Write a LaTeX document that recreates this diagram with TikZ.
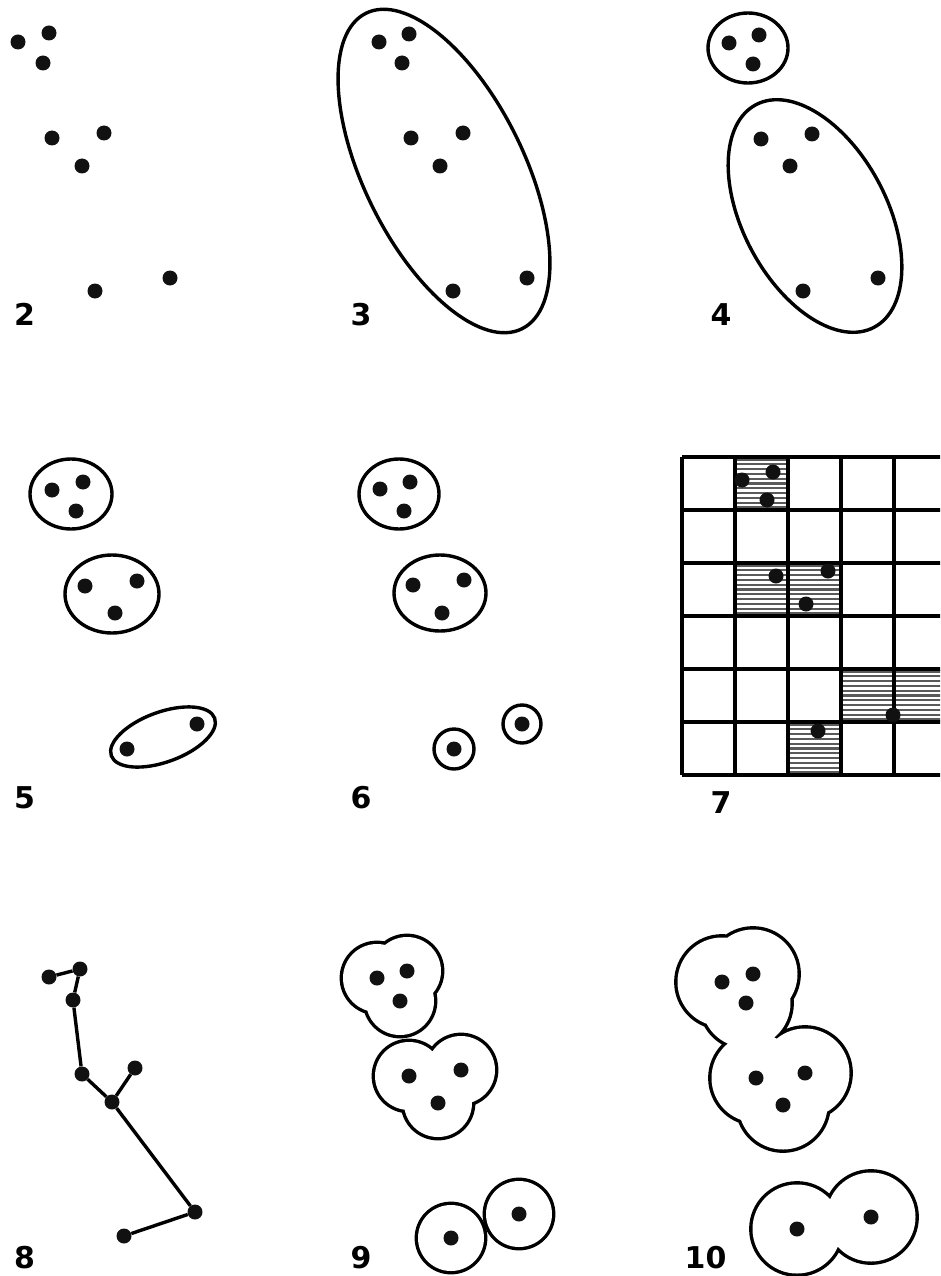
\documentclass[tikz,border=0pt]{standalone}
\usepackage{fontspec}
\usepackage{tikz}
\setsansfont{DejaVu Sans}
\definecolor{punkt}{HTML}{111111}
\definecolor{raster}{HTML}{5a5a5a}

\newcommand{\hatchcell}[3]{%
  \foreach \hh in {2.5,7.3,...,52} \draw[hatch] (#1,{#2+\hh}) -- ({#1+#3},{#2+\hh});}

\begin{document}
\begin{tikzpicture}[x=1pt,y=-1pt,
  dot/.style={fill=punkt},
  ring/.style={line width=3.4pt},
  blob/.style={line width=6.8pt},
  hatch/.style={raster, line width=2.2pt},
  gridline/.style={line width=3.6pt, line cap=square},
  vtx/.style={circle, fill=punkt, inner sep=0pt, minimum size=15pt},
  edge/.style={line width=3.4pt},
  lbl/.style={font=\sffamily\bfseries\fontsize{30}{30}\selectfont, inner sep=0pt}]
\useasboundingbox (0,0) rectangle (940,1276);

% Panel 2: points only
\fill[dot] (18,42) circle (7.5); \fill[dot] (49,33) circle (7.5); \fill[dot] (43,63) circle (7.5);
\fill[dot] (52,138) circle (7.5); \fill[dot] (104,133) circle (7.5); \fill[dot] (82,166) circle (7.5);
\fill[dot] (95,291) circle (7.5); \fill[dot] (170,278) circle (7.5);
\node[lbl] (l2) at (24.5,314) {2};

% Panel 3: one ellipse
\draw[ring, rotate around={-63.7:(444,171)}] (444,171) ellipse [x radius=176, y radius=80];
\fill[dot] (379,42) circle (7.5); \fill[dot] (409,34) circle (7.5); \fill[dot] (402,63) circle (7.5);
\fill[dot] (411,138) circle (7.5); \fill[dot] (463,133) circle (7.5); \fill[dot] (440,166) circle (7.5);
\fill[dot] (453,291) circle (7.5); \fill[dot] (527,278) circle (7.5);
\node[lbl] (l3) at (361,315) {3};

% Panel 4: two ellipses
\draw[ring] (748,48) ellipse [x radius=40, y radius=35];
\draw[ring, rotate around={-62:(815,216)}] (815,216) ellipse [x radius=126, y radius=72];
\fill[dot] (729,43) circle (7.5); \fill[dot] (759,35) circle (7.5); \fill[dot] (753,64) circle (7.5);
\fill[dot] (761,139) circle (7.5); \fill[dot] (812,134) circle (7.5); \fill[dot] (790,166) circle (7.5);
\fill[dot] (803,291) circle (7.5); \fill[dot] (878,278) circle (7.5);
\node[lbl] (l4) at (721,315) {4};

% Panel 5: three ellipses
\draw[ring] (71,494) ellipse [x radius=41, y radius=35];
\draw[ring] (112,594) ellipse [x radius=47, y radius=39];
\draw[ring, rotate around={20:(163,737)}] (163,737) ellipse [x radius=55, y radius=25];
\fill[dot] (52,490) circle (7.5); \fill[dot] (83,482) circle (7.5); \fill[dot] (76,511) circle (7.5);
\fill[dot] (85,586) circle (7.5); \fill[dot] (137,581) circle (7.5); \fill[dot] (115,613) circle (7.5);
\fill[dot] (127,749) circle (7.5); \fill[dot] (197,724) circle (7.5);
\node[lbl] (l5) at (24.5,798) {5};

% Panel 6: two ellipses, two small circles
\draw[ring] (399,494) ellipse [x radius=40, y radius=35];
\draw[ring] (440,593) ellipse [x radius=46, y radius=38];
\draw[ring] (454,749) circle (20);
\draw[ring] (522,724) circle (19);
\fill[dot] (380,489) circle (7.5); \fill[dot] (410,482) circle (7.5); \fill[dot] (404,511) circle (7.5);
\fill[dot] (413,585) circle (7.5); \fill[dot] (464,580) circle (7.5); \fill[dot] (442,613) circle (7.5);
\fill[dot] (454,749) circle (7.5); \fill[dot] (522,724) circle (7.5);
\node[lbl] (l6) at (361,798) {6};

% Panel 7: grid with hatched cells
\begin{scope}
\clip (0,0) rectangle (940,1276);
\hatchcell{735}{457}{53}
\hatchcell{735}{563}{53} \hatchcell{788}{563}{53}
\hatchcell{841}{669}{53} \hatchcell{894}{669}{53}
\hatchcell{788}{722}{53}
\foreach \gx in {682,735,788,841,894,947} \draw[gridline] (\gx,457) -- (\gx,775);
\foreach \gy in {457,510,563,616,669,722,775} \draw[gridline] (682,\gy) -- (947,\gy);
\end{scope}
\fill[dot] (742,480) circle (7.5); \fill[dot] (773,472) circle (7.5); \fill[dot] (767,500) circle (7.5);
\fill[dot] (776,576) circle (7.5); \fill[dot] (828,571) circle (7.5); \fill[dot] (806,604) circle (7.5);
\fill[dot] (818,731) circle (7.5); \fill[dot] (893,715) circle (7.5);
\node[lbl] (l7) at (721,803) {7};

% Panel 8: tree
\node[vtx] (n1) at (49,977) {};
\node[vtx] (n2) at (80,969) {};
\node[vtx] (n3) at (73,1000) {};
\node[vtx] (n4) at (82,1074) {};
\node[vtx] (n5) at (112,1102) {};
\node[vtx] (n6) at (135,1068) {};
\node[vtx] (n7) at (195,1212) {};
\node[vtx] (n8) at (124,1236) {};
\draw[edge] (n1) -- (n2) -- (n3) -- (n4) -- (n5) -- (n7) -- (n8);
\draw[edge] (n5) -- (n6);
\node[lbl] (l8) at (24.5,1257.5) {8};

% Panel 9: separate circle unions
\draw[blob] (377,978) circle (34) (407,971) circle (34) (400,1001) circle (34);
\fill[white] (377,978) circle (34) (407,971) circle (34) (400,1001) circle (34);
\draw[blob] (409,1076) circle (34) (461,1070) circle (34) (438,1103) circle (34);
\fill[white] (409,1076) circle (34) (461,1070) circle (34) (438,1103) circle (34);
\draw[blob] (451,1238) circle (33); \fill[white] (451,1238) circle (33);
\draw[blob] (519,1214) circle (33); \fill[white] (519,1214) circle (33);
\fill[dot] (377,978) circle (7.5); \fill[dot] (407,971) circle (7.5); \fill[dot] (400,1001) circle (7.5);
\fill[dot] (409,1076) circle (7.5); \fill[dot] (461,1070) circle (7.5); \fill[dot] (438,1103) circle (7.5);
\fill[dot] (451,1238) circle (7.5); \fill[dot] (519,1214) circle (7.5);
\node[lbl] (l9) at (361,1257.5) {9};

% Panel 10: merged circle unions
\draw[blob] (722,982) circle (44.5) (753,974) circle (44.5) (746,1003) circle (44.5)
  (756,1078) circle (44.5) (805,1073) circle (44.5) (783,1105) circle (44.5);
\fill[white] (722,982) circle (44.5) (753,974) circle (44.5) (746,1003) circle (44.5)
  (756,1078) circle (44.5) (805,1073) circle (44.5) (783,1105) circle (44.5);
\draw[blob] (797,1229) circle (44.5) (871,1217) circle (44.5);
\fill[white] (797,1229) circle (44.5) (871,1217) circle (44.5);
\fill[dot] (722,982) circle (7.5); \fill[dot] (753,974) circle (7.5); \fill[dot] (746,1003) circle (7.5);
\fill[dot] (756,1078) circle (7.5); \fill[dot] (805,1073) circle (7.5); \fill[dot] (783,1105) circle (7.5);
\fill[dot] (797,1229) circle (7.5); \fill[dot] (871,1217) circle (7.5);
\node[lbl] (l10) at (705.5,1257.5) {10};
\end{tikzpicture}
\end{document}
